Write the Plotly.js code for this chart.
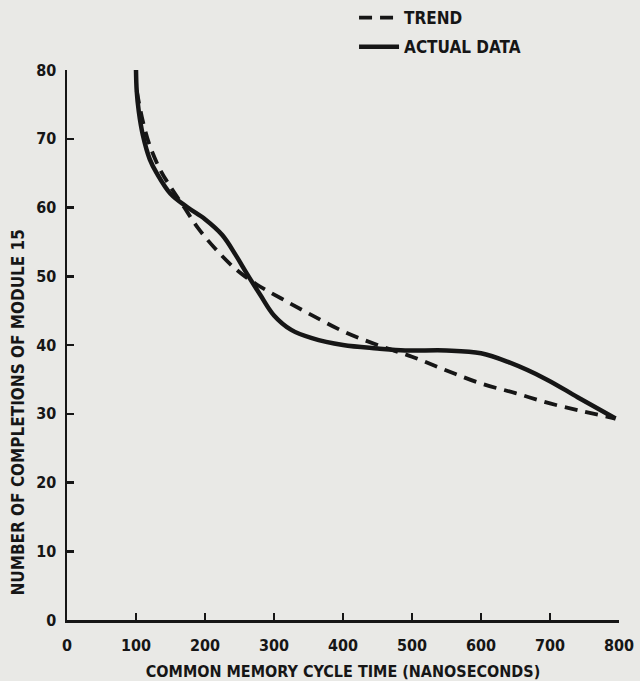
<!DOCTYPE html>
<html>
<head>
<meta charset="utf-8">
<script src="https://cdn.plot.ly/plotly-3.0.1.min.js"></script>
<style>html,body{margin:0;padding:0;background:#e9e9e6;}#chart{width:640px;height:681px;}</style>
</head>
<body>
<div id="chart"></div>
<script>
const actualX = [100, 101, 104, 110, 120, 130, 150, 175, 200, 225, 245, 260, 280, 300, 325, 355, 400, 450, 490, 550, 600, 640, 695, 740, 795];
const actualY = [80, 77, 74, 70.5, 67, 65, 62, 60, 58.3, 56, 53, 50.5, 47.3, 44.3, 42.2, 41, 40, 39.5, 39.2, 39.2, 38.8, 37.5, 35, 32.4, 29.3];
const trendX = [101, 110, 120, 135, 150, 170, 190, 215, 245, 275, 310, 350, 400, 450, 500, 550, 600, 650, 700, 750, 795];
const trendY = [77, 72.5, 69, 65.5, 63, 60, 57, 54, 51, 48.8, 46.8, 44.6, 42, 40, 38.3, 36.3, 34.4, 33, 31.5, 30.3, 29.3];
const xTicks = [0, 100, 200, 300, 400, 500, 600, 700, 800];
const yTicks = [0, 10, 20, 30, 40, 50, 60, 70, 80];
const seriesNames = ["TREND", "ACTUAL DATA"];
const xTitle = "COMMON MEMORY CYCLE TIME (NANOSECONDS)";
const yTitle = "NUMBER OF COMPLETIONS OF MODULE 15";

const FONT = "DejaVu Sans Condensed, Liberation Sans Narrow, sans-serif";
const INK = "#161616";

const traces = [
  {x: trendX, y: trendY, name: seriesNames[0], mode: "lines", legendgroup: "a",
   line: {color: INK, width: 3.8, dash: "13px,8px", shape: "spline", smoothing: 1}},
  {x: actualX, y: actualY, name: seriesNames[1], mode: "lines", legendgroup: "b",
   line: {color: INK, width: 4.5, shape: "spline", smoothing: 1}}
];

const axisCommon = {
  showgrid: false, zeroline: false, showline: true, linecolor: INK, linewidth: 2.5,
  ticks: "inside", ticklen: 7, tickwidth: 2.5, tickcolor: INK,
  tickfont: {family: FONT, size: 16, color: INK, weight: "bold"}
};

const layout = {
  width: 640, height: 681,
  margin: {l: 67, r: 21, t: 70, b: 61, autoexpand: false},
  paper_bgcolor: "#e9e9e6", plot_bgcolor: "#e9e9e6",
  showlegend: true,
  legend: {x: 0.52, xref: "paper", y: 1.0, yref: "container", xanchor: "left", yanchor: "top", bgcolor: "rgba(0,0,0,0)",
    font: {family: FONT, size: 17, color: INK, weight: "bold"}, tracegroupgap: 4, itemwidth: 40},
  xaxis: Object.assign({}, axisCommon, {range: [0, 800], tickvals: xTicks, ticktext: xTicks.map(String),
    ticklabelstandoff: 9,
    title: {text: xTitle, font: {family: FONT, size: 16, color: INK, weight: "bold"}, standoff: 12}}),
  yaxis: Object.assign({}, axisCommon, {range: [0, 80], tickvals: yTicks, ticktext: yTicks.map(String),
    ticklabelstandoff: 5}),
  annotations: [
    {text: yTitle, xref: "paper", yref: "paper", x: -0.088, y: 0.378, xanchor: "center", yanchor: "middle",
     textangle: -90, showarrow: false, font: {family: FONT, size: 17, color: INK, weight: "bold"}}
  ]
};

Plotly.newPlot("chart", traces, layout, {displayModeBar: false, staticPlot: true});
</script>
</body>
</html>
